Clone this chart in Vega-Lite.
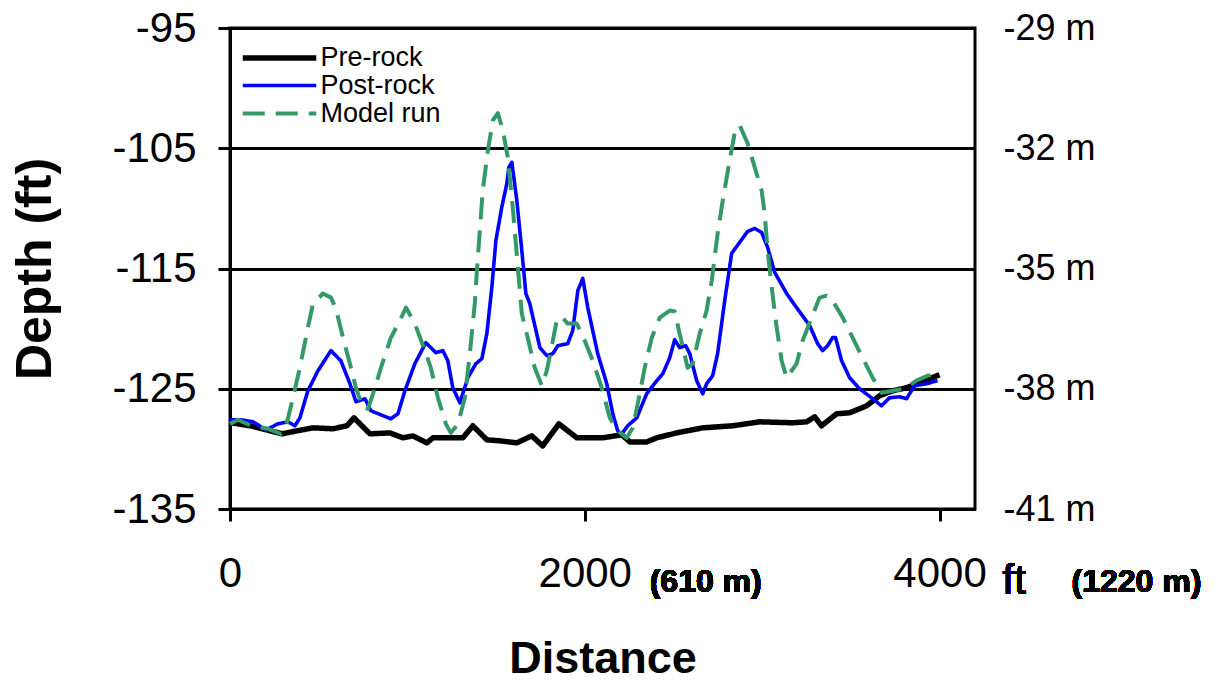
{
  "$schema": "https://vega.github.io/schema/vega-lite/v6.json",
  "width": 745,
  "height": 481,
  "autosize": {"type": "none"},
  "padding": {"left": 230, "top": 28, "right": 247, "bottom": 175},
  "background": "white",
  "config": {
    "view": {"stroke": "black", "strokeWidth": 3},
    "font": "Liberation Sans",
    "axis": {"labelFont": "Liberation Sans", "titleFont": "Liberation Sans", "labelColor": "black", "titleColor": "black"},
    "legend": {"labelFont": "Liberation Sans"}
  },
  "datasets": {
    "lines": [
      {"s": "Pre-rock", "x": 0, "y": -127.81}, {"s": "Pre-rock", "x": 113, "y": -128.08}, {"s": "Pre-rock", "x": 208, "y": -128.42}, {"s": "Pre-rock", "x": 293, "y": -128.75}, {"s": "Pre-rock", "x": 377, "y": -128.5}, {"s": "Pre-rock", "x": 468, "y": -128.25}, {"s": "Pre-rock", "x": 580, "y": -128.33}, {"s": "Pre-rock", "x": 659, "y": -128.08}, {"s": "Pre-rock", "x": 699, "y": -127.42}, {"s": "Pre-rock", "x": 789, "y": -128.75}, {"s": "Pre-rock", "x": 901, "y": -128.67}, {"s": "Pre-rock", "x": 975, "y": -129.08}, {"s": "Pre-rock", "x": 1031, "y": -128.92}, {"s": "Pre-rock", "x": 1110, "y": -129.5}, {"s": "Pre-rock", "x": 1144, "y": -129.08}, {"s": "Pre-rock", "x": 1256, "y": -129.08}, {"s": "Pre-rock", "x": 1313, "y": -129.08}, {"s": "Pre-rock", "x": 1369, "y": -128.08}, {"s": "Pre-rock", "x": 1448, "y": -129.25}, {"s": "Pre-rock", "x": 1521, "y": -129.33}, {"s": "Pre-rock", "x": 1617, "y": -129.5}, {"s": "Pre-rock", "x": 1701, "y": -128.92}, {"s": "Pre-rock", "x": 1763, "y": -129.75}, {"s": "Pre-rock", "x": 1854, "y": -127.92}, {"s": "Pre-rock", "x": 1955, "y": -129.08}, {"s": "Pre-rock", "x": 2068, "y": -129.08}, {"s": "Pre-rock", "x": 2101, "y": -129.08}, {"s": "Pre-rock", "x": 2209, "y": -128.83}, {"s": "Pre-rock", "x": 2254, "y": -129.42}, {"s": "Pre-rock", "x": 2349, "y": -129.42}, {"s": "Pre-rock", "x": 2406, "y": -129.08}, {"s": "Pre-rock", "x": 2518, "y": -128.67}, {"s": "Pre-rock", "x": 2665, "y": -128.25}, {"s": "Pre-rock", "x": 2834, "y": -128.08}, {"s": "Pre-rock", "x": 2986, "y": -127.75}, {"s": "Pre-rock", "x": 3172, "y": -127.83}, {"s": "Pre-rock", "x": 3251, "y": -127.75}, {"s": "Pre-rock", "x": 3296, "y": -127.33}, {"s": "Pre-rock", "x": 3335, "y": -128.08}, {"s": "Pre-rock", "x": 3420, "y": -127.08}, {"s": "Pre-rock", "x": 3493, "y": -127.0}, {"s": "Pre-rock", "x": 3589, "y": -126.42}, {"s": "Pre-rock", "x": 3662, "y": -125.58}, {"s": "Pre-rock", "x": 3735, "y": -125.17}, {"s": "Pre-rock", "x": 3814, "y": -124.92}, {"s": "Pre-rock", "x": 3887, "y": -124.5}, {"s": "Pre-rock", "x": 4000, "y": -123.83},
      {"s": "Post-rock", "x": 0, "y": -127.58}, {"s": "Post-rock", "x": 62, "y": -127.58}, {"s": "Post-rock", "x": 130, "y": -127.75}, {"s": "Post-rock", "x": 203, "y": -128.42}, {"s": "Post-rock", "x": 270, "y": -127.92}, {"s": "Post-rock", "x": 327, "y": -127.75}, {"s": "Post-rock", "x": 366, "y": -128.08}, {"s": "Post-rock", "x": 394, "y": -127.42}, {"s": "Post-rock", "x": 439, "y": -125.17}, {"s": "Post-rock", "x": 496, "y": -123.5}, {"s": "Post-rock", "x": 569, "y": -121.83}, {"s": "Post-rock", "x": 625, "y": -122.67}, {"s": "Post-rock", "x": 676, "y": -124.58}, {"s": "Post-rock", "x": 710, "y": -126.08}, {"s": "Post-rock", "x": 761, "y": -125.83}, {"s": "Post-rock", "x": 794, "y": -126.83}, {"s": "Post-rock", "x": 851, "y": -127.17}, {"s": "Post-rock", "x": 907, "y": -127.5}, {"s": "Post-rock", "x": 947, "y": -127.08}, {"s": "Post-rock", "x": 986, "y": -125.17}, {"s": "Post-rock", "x": 1042, "y": -122.92}, {"s": "Post-rock", "x": 1104, "y": -121.17}, {"s": "Post-rock", "x": 1161, "y": -122.0}, {"s": "Post-rock", "x": 1200, "y": -121.83}, {"s": "Post-rock", "x": 1228, "y": -122.67}, {"s": "Post-rock", "x": 1256, "y": -124.92}, {"s": "Post-rock", "x": 1296, "y": -126.17}, {"s": "Post-rock", "x": 1341, "y": -124.08}, {"s": "Post-rock", "x": 1386, "y": -122.92}, {"s": "Post-rock", "x": 1420, "y": -122.5}, {"s": "Post-rock", "x": 1448, "y": -120.42}, {"s": "Post-rock", "x": 1476, "y": -116.58}, {"s": "Post-rock", "x": 1499, "y": -112.67}, {"s": "Post-rock", "x": 1532, "y": -109.92}, {"s": "Post-rock", "x": 1561, "y": -107.92}, {"s": "Post-rock", "x": 1572, "y": -106.58}, {"s": "Post-rock", "x": 1589, "y": -106.17}, {"s": "Post-rock", "x": 1617, "y": -109.33}, {"s": "Post-rock", "x": 1645, "y": -113.5}, {"s": "Post-rock", "x": 1668, "y": -117.08}, {"s": "Post-rock", "x": 1690, "y": -117.92}, {"s": "Post-rock", "x": 1747, "y": -121.58}, {"s": "Post-rock", "x": 1786, "y": -122.25}, {"s": "Post-rock", "x": 1820, "y": -122.08}, {"s": "Post-rock", "x": 1848, "y": -121.42}, {"s": "Post-rock", "x": 1904, "y": -121.25}, {"s": "Post-rock", "x": 1932, "y": -120.17}, {"s": "Post-rock", "x": 1961, "y": -116.83}, {"s": "Post-rock", "x": 1989, "y": -115.83}, {"s": "Post-rock", "x": 2017, "y": -118.25}, {"s": "Post-rock", "x": 2073, "y": -122.08}, {"s": "Post-rock", "x": 2124, "y": -124.58}, {"s": "Post-rock", "x": 2158, "y": -127.08}, {"s": "Post-rock", "x": 2186, "y": -128.5}, {"s": "Post-rock", "x": 2209, "y": -128.75}, {"s": "Post-rock", "x": 2242, "y": -128.08}, {"s": "Post-rock", "x": 2293, "y": -127.42}, {"s": "Post-rock", "x": 2349, "y": -125.42}, {"s": "Post-rock", "x": 2406, "y": -124.33}, {"s": "Post-rock", "x": 2440, "y": -123.75}, {"s": "Post-rock", "x": 2479, "y": -122.42}, {"s": "Post-rock", "x": 2507, "y": -120.92}, {"s": "Post-rock", "x": 2535, "y": -121.58}, {"s": "Post-rock", "x": 2569, "y": -121.42}, {"s": "Post-rock", "x": 2592, "y": -122.08}, {"s": "Post-rock", "x": 2631, "y": -124.33}, {"s": "Post-rock", "x": 2665, "y": -125.42}, {"s": "Post-rock", "x": 2687, "y": -124.58}, {"s": "Post-rock", "x": 2721, "y": -123.92}, {"s": "Post-rock", "x": 2749, "y": -122.08}, {"s": "Post-rock", "x": 2789, "y": -117.67}, {"s": "Post-rock", "x": 2828, "y": -113.75}, {"s": "Post-rock", "x": 2873, "y": -112.83}, {"s": "Post-rock", "x": 2918, "y": -111.92}, {"s": "Post-rock", "x": 2958, "y": -111.67}, {"s": "Post-rock", "x": 2997, "y": -112.0}, {"s": "Post-rock", "x": 3031, "y": -113.25}, {"s": "Post-rock", "x": 3071, "y": -115.33}, {"s": "Post-rock", "x": 3138, "y": -117.08}, {"s": "Post-rock", "x": 3194, "y": -118.25}, {"s": "Post-rock", "x": 3268, "y": -119.75}, {"s": "Post-rock", "x": 3313, "y": -121.25}, {"s": "Post-rock", "x": 3341, "y": -121.83}, {"s": "Post-rock", "x": 3369, "y": -121.42}, {"s": "Post-rock", "x": 3397, "y": -120.75}, {"s": "Post-rock", "x": 3414, "y": -120.75}, {"s": "Post-rock", "x": 3448, "y": -122.67}, {"s": "Post-rock", "x": 3493, "y": -124.08}, {"s": "Post-rock", "x": 3549, "y": -125.0}, {"s": "Post-rock", "x": 3623, "y": -125.83}, {"s": "Post-rock", "x": 3673, "y": -126.42}, {"s": "Post-rock", "x": 3718, "y": -125.75}, {"s": "Post-rock", "x": 3775, "y": -125.67}, {"s": "Post-rock", "x": 3814, "y": -125.83}, {"s": "Post-rock", "x": 3859, "y": -124.75}, {"s": "Post-rock", "x": 3927, "y": -124.58}, {"s": "Post-rock", "x": 3989, "y": -124.33},
      {"s": "Model run", "x": 0, "y": -127.92}, {"s": "Model run", "x": 45, "y": -127.58}, {"s": "Model run", "x": 118, "y": -128.08}, {"s": "Model run", "x": 214, "y": -128.33}, {"s": "Model run", "x": 287, "y": -128.75}, {"s": "Model run", "x": 321, "y": -127.83}, {"s": "Model run", "x": 344, "y": -126.42}, {"s": "Model run", "x": 394, "y": -123.25}, {"s": "Model run", "x": 439, "y": -119.92}, {"s": "Model run", "x": 468, "y": -117.92}, {"s": "Model run", "x": 524, "y": -117.08}, {"s": "Model run", "x": 569, "y": -117.42}, {"s": "Model run", "x": 597, "y": -118.33}, {"s": "Model run", "x": 637, "y": -120.75}, {"s": "Model run", "x": 676, "y": -122.92}, {"s": "Model run", "x": 710, "y": -124.92}, {"s": "Model run", "x": 749, "y": -126.58}, {"s": "Model run", "x": 778, "y": -126.67}, {"s": "Model run", "x": 817, "y": -124.92}, {"s": "Model run", "x": 851, "y": -123.25}, {"s": "Model run", "x": 907, "y": -120.75}, {"s": "Model run", "x": 958, "y": -119.33}, {"s": "Model run", "x": 992, "y": -118.25}, {"s": "Model run", "x": 1042, "y": -119.58}, {"s": "Model run", "x": 1099, "y": -121.83}, {"s": "Model run", "x": 1132, "y": -123.25}, {"s": "Model run", "x": 1172, "y": -125.75}, {"s": "Model run", "x": 1217, "y": -127.92}, {"s": "Model run", "x": 1245, "y": -128.67}, {"s": "Model run", "x": 1285, "y": -127.92}, {"s": "Model run", "x": 1324, "y": -125.75}, {"s": "Model run", "x": 1352, "y": -122.08}, {"s": "Model run", "x": 1380, "y": -117.92}, {"s": "Model run", "x": 1392, "y": -115.17}, {"s": "Model run", "x": 1425, "y": -108.5}, {"s": "Model run", "x": 1454, "y": -105.17}, {"s": "Model run", "x": 1482, "y": -102.67}, {"s": "Model run", "x": 1510, "y": -102.08}, {"s": "Model run", "x": 1538, "y": -103.5}, {"s": "Model run", "x": 1566, "y": -105.75}, {"s": "Model run", "x": 1594, "y": -109.92}, {"s": "Model run", "x": 1623, "y": -114.92}, {"s": "Model run", "x": 1645, "y": -118.75}, {"s": "Model run", "x": 1673, "y": -120.42}, {"s": "Model run", "x": 1718, "y": -123.25}, {"s": "Model run", "x": 1758, "y": -124.75}, {"s": "Model run", "x": 1786, "y": -123.5}, {"s": "Model run", "x": 1820, "y": -121.0}, {"s": "Model run", "x": 1842, "y": -119.33}, {"s": "Model run", "x": 1870, "y": -119.0}, {"s": "Model run", "x": 1904, "y": -119.58}, {"s": "Model run", "x": 1955, "y": -119.58}, {"s": "Model run", "x": 2000, "y": -121.0}, {"s": "Model run", "x": 2045, "y": -122.67}, {"s": "Model run", "x": 2096, "y": -124.92}, {"s": "Model run", "x": 2141, "y": -127.42}, {"s": "Model run", "x": 2186, "y": -128.5}, {"s": "Model run", "x": 2237, "y": -129.08}, {"s": "Model run", "x": 2271, "y": -128.25}, {"s": "Model run", "x": 2310, "y": -125.42}, {"s": "Model run", "x": 2338, "y": -123.25}, {"s": "Model run", "x": 2378, "y": -120.75}, {"s": "Model run", "x": 2423, "y": -119.08}, {"s": "Model run", "x": 2479, "y": -118.5}, {"s": "Model run", "x": 2507, "y": -118.58}, {"s": "Model run", "x": 2535, "y": -120.42}, {"s": "Model run", "x": 2580, "y": -123.25}, {"s": "Model run", "x": 2608, "y": -122.92}, {"s": "Model run", "x": 2648, "y": -120.42}, {"s": "Model run", "x": 2687, "y": -118.5}, {"s": "Model run", "x": 2716, "y": -116.0}, {"s": "Model run", "x": 2749, "y": -112.08}, {"s": "Model run", "x": 2778, "y": -109.33}, {"s": "Model run", "x": 2817, "y": -106.0}, {"s": "Model run", "x": 2845, "y": -103.75}, {"s": "Model run", "x": 2873, "y": -103.08}, {"s": "Model run", "x": 2918, "y": -104.58}, {"s": "Model run", "x": 2958, "y": -106.58}, {"s": "Model run", "x": 2997, "y": -108.5}, {"s": "Model run", "x": 3014, "y": -110.42}, {"s": "Model run", "x": 3031, "y": -113.5}, {"s": "Model run", "x": 3054, "y": -116.58}, {"s": "Model run", "x": 3082, "y": -119.92}, {"s": "Model run", "x": 3110, "y": -122.67}, {"s": "Model run", "x": 3138, "y": -124.08}, {"s": "Model run", "x": 3194, "y": -122.92}, {"s": "Model run", "x": 3228, "y": -121.0}, {"s": "Model run", "x": 3279, "y": -119.08}, {"s": "Model run", "x": 3324, "y": -117.42}, {"s": "Model run", "x": 3363, "y": -117.25}, {"s": "Model run", "x": 3397, "y": -117.67}, {"s": "Model run", "x": 3454, "y": -119.08}, {"s": "Model run", "x": 3510, "y": -120.75}, {"s": "Model run", "x": 3566, "y": -122.42}, {"s": "Model run", "x": 3623, "y": -124.08}, {"s": "Model run", "x": 3673, "y": -125.33}, {"s": "Model run", "x": 3735, "y": -125.17}, {"s": "Model run", "x": 3803, "y": -125.0}, {"s": "Model run", "x": 3870, "y": -124.33}, {"s": "Model run", "x": 3932, "y": -123.92}, {"s": "Model run", "x": 3989, "y": -123.75}
    ]
  },
  "data": {"name": "lines"},
  "layer": [
    {
      "mark": {"type": "line", "strokeJoin": "round", "strokeCap": "butt"},
      "encoding": {
        "x": {
          "field": "x", "type": "quantitative",
          "scale": {"domain": [0, 4200], "nice": false, "zero": false},
          "axis": {
            "values": [0, 2000, 4000], "labelExpr": "'' + datum.value",
            "labelFontSize": 42, "labelPadding": 32, "labelFlush": false,
            "tickSize": 12, "tickColor": "black", "tickWidth": 3,
            "domainColor": "black", "domainWidth": 3, "grid": false,
            "title": "Distance", "titleFontSize": 45, "titleFontWeight": "bold", "titlePadding": 42
          }
        },
        "y": {
          "field": "y", "type": "quantitative",
          "scale": {"domain": [-135, -95], "nice": false, "zero": false},
          "axis": {
            "orient": "left", "values": [-135, -125, -115, -105, -95], "labelExpr": "'' + datum.value",
            "labelFontSize": 42, "labelPadding": 22, "labelFlush": false,
            "tickSize": 12, "tickColor": "black", "tickWidth": 3,
            "domainColor": "black", "domainWidth": 3,
            "grid": true, "gridColor": "black", "gridWidth": 3, "gridOpacity": 1,
            "title": "Depth (ft)", "titleFontSize": 50, "titleFontWeight": "bold", "titlePadding": 51
          }
        },
        "color": {
          "field": "s", "type": "nominal",
          "scale": {"domain": ["Pre-rock", "Post-rock", "Model run"], "range": ["#000000", "#0000ff", "#339966"]},
          "legend": {
            "title": null, "orient": "none", "legendX": 34.5, "legendY": 15,
            "symbolType": "M-3,0H3", "symbolSize": 600, "symbolStrokeWidth": 4,
            "labelFontSize": 27, "labelColor": "black", "labelOffset": 26,
            "rowPadding": 0, "padding": 0
          }
        },
        "strokeDash": {
          "field": "s", "type": "nominal",
          "scale": {"domain": ["Pre-rock", "Post-rock", "Model run"], "range": [[1, 0], [1, 0], [22, 11]]},
          "legend": {
            "title": null, "orient": "none", "legendX": 34.5, "legendY": 15,
            "symbolType": "M-3,0H3", "symbolSize": 600, "symbolStrokeWidth": 4,
            "labelFontSize": 27, "labelColor": "black", "labelOffset": 26,
            "rowPadding": 0, "padding": 0
          }
        },
        "strokeWidth": {
          "field": "s", "type": "nominal",
          "scale": {"type": "ordinal", "domain": ["Pre-rock", "Post-rock", "Model run"], "range": [5.5, 3.6, 4]},
          "legend": null
        }
      }
    },
    {
      "transform": [{"filter": "datum.s === 'Pre-rock'"}],
      "mark": {"type": "line", "opacity": 0},
      "encoding": {
        "x": {"field": "x", "type": "quantitative"},
        "y": {
          "field": "y", "type": "quantitative",
          "axis": {
            "orient": "right", "values": [-135, -125, -115, -105, -95],
            "labelExpr": "'' + round(datum.value * 0.3048) + ' m'",
            "labelFontSize": 36, "labelPadding": 28, "labelFlush": false,
            "ticks": false, "domain": false, "grid": false, "title": null
          }
        }
      }
    },
    {
      "mark": {"type": "text", "align": "left", "baseline": "middle", "fontSize": 32, "fontWeight": "bold", "color": "black"},
      "encoding": {
        "x": {"datum": 2366, "type": "quantitative"},
        "y": {"datum": -141.1, "type": "quantitative", "axis": null},
        "text": {"value": "(610 m)"}
      }
    },
    {
      "mark": {"type": "text", "align": "left", "baseline": "middle", "fontSize": 42, "color": "black"},
      "encoding": {
        "x": {"datum": 4355, "type": "quantitative"},
        "y": {"datum": -141.0, "type": "quantitative", "axis": null},
        "text": {"value": "ft"}
      }
    },
    {
      "mark": {"type": "text", "align": "left", "baseline": "middle", "fontSize": 32, "fontWeight": "bold", "color": "black"},
      "encoding": {
        "x": {"datum": 4744, "type": "quantitative"},
        "y": {"datum": -141.1, "type": "quantitative", "axis": null},
        "text": {"value": "(1220 m)"}
      }
    }
  ],
  "resolve": {"axis": {"y": "independent"}}
}
